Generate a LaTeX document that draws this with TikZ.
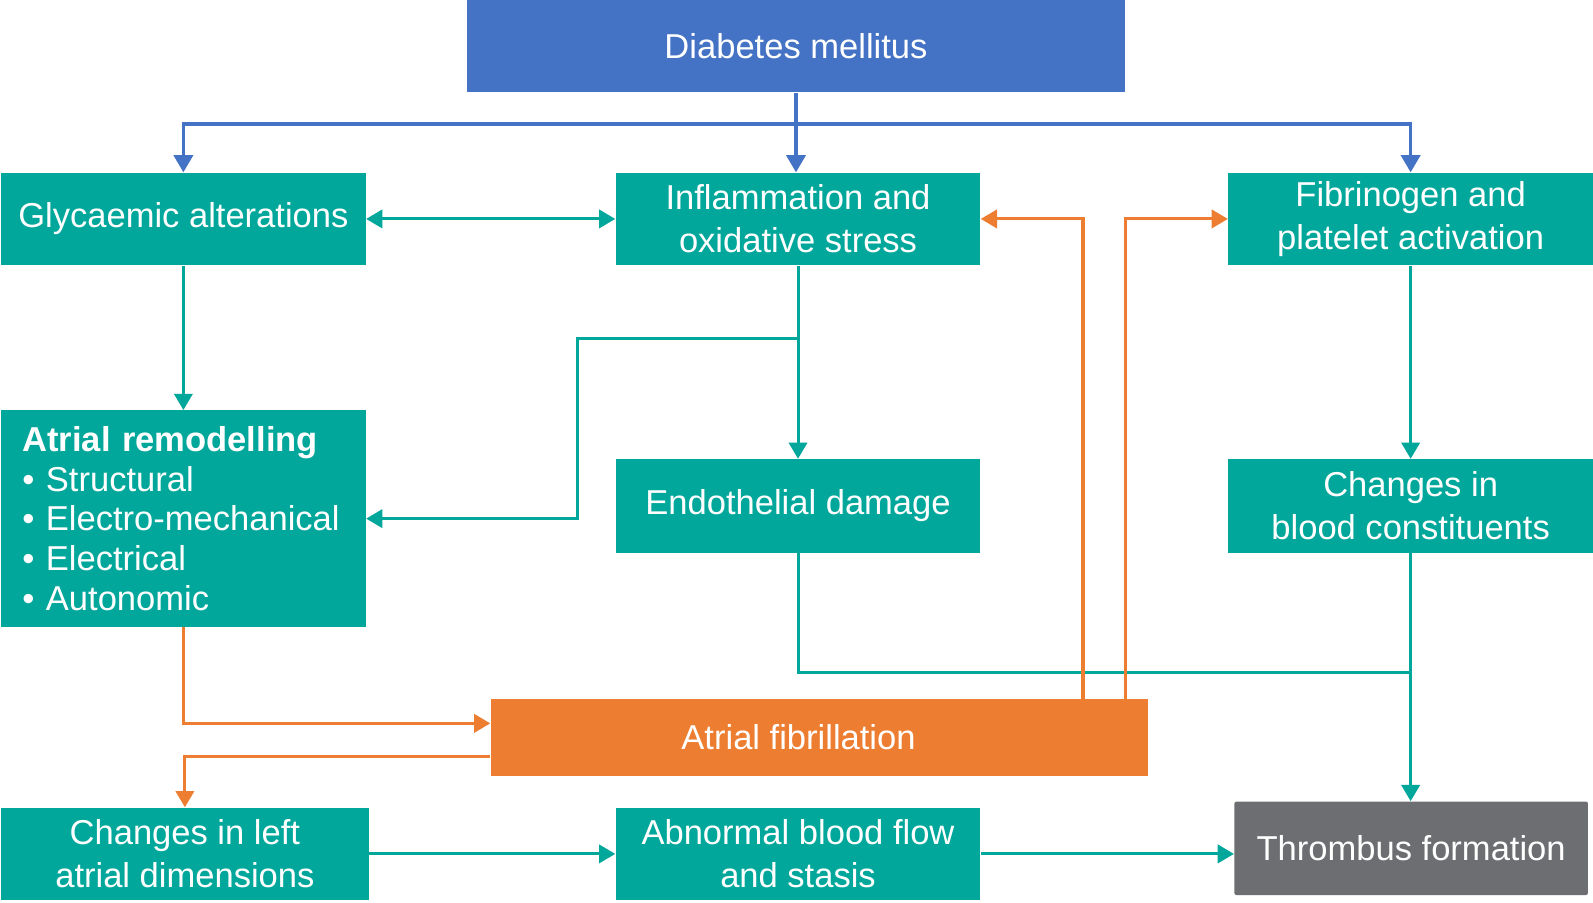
\documentclass[tikz,border=0pt]{standalone}
\usepackage{fontspec}
\setmainfont{Liberation Sans}
\usetikzlibrary{arrows.meta}
\definecolor{dmblue}{HTML}{4472C4}
\definecolor{tealc}{HTML}{00A79A}
\definecolor{afor}{HTML}{ED7D31}
\definecolor{thgrey}{HTML}{6D6E71}
\begin{document}
\begin{tikzpicture}[x=0.5pt,y=-0.5pt,
  box/.style={fill=tealc,text=white,draw=none,minimum width=179.5pt,minimum height=45.5pt,
    align=center,inner sep=0pt,font=\fontsize{17}{21}\selectfont},
  tl/.style={draw=tealc,line width=1.5pt},
  ta/.style={tl,-{Triangle[width=9pt,length=8pt]}},
  tda/.style={tl,{Triangle[width=9pt,length=8pt]}-{Triangle[width=9pt,length=8pt]}},
  bl/.style={draw=dmblue,line width=1.6pt},
  ba/.style={bl,-{Triangle[width=9.5pt,length=8.5pt]}},
  oa/.style={draw=afor,line width=1.5pt,-{Triangle[width=9pt,length=8pt]}},
]
\fill[white] (0,0) rectangle (1568,888);
\useasboundingbox (0,0) rectangle (1568,888);

\node[box,fill=dmblue,minimum width=323.5pt] (dm) at (783.5,45.5) {Diabetes mellitus};
\node[box] (gly) at (180.5,215.5) {Glycaemic alterations};
\node[box] (infl) at (785.5,215.5) {Inflammation and\\oxidative stress};
\node[box] (fib) at (1388.5,215.5) {Fibrinogen and\\platelet activation};
\node[box,minimum height=106.5pt,text width=158.5pt,align=left,
  font=\fontsize{17}{19.5}\selectfont] (ar) at (180.5,510.5)
  {\textbf{Atrial remodelling}\\• Structural\\• Electro-mechanical\\• Electrical\\• Autonomic};
\node[box,minimum height=46pt] (endo) at (785.5,498) {Endothelial damage};
\node[box,minimum height=46pt] (cbc) at (1388.5,498) {Changes in\\blood constituents};
\node[box,fill=afor,minimum width=323.5pt,minimum height=38pt] (af) at (806.5,726)
  {\hspace*{-20.5pt}Atrial fibrillation};
\node[box,minimum width=181pt] (cla) at (182,840.5) {Changes in left\\atrial dimensions};
\node[box] (abn) at (785.5,840.5) {Abnormal blood flow\\and stasis};
\node[box,fill=thgrey,minimum width=174pt,minimum height=46pt,rounded corners=1pt] (thr) at (1389,835) {Thrombus formation};

% blue
\coordinate (bj) at (783.5,122);
\draw[bl] (dm.south) -- (bj);
\draw[ba] (bj) -| (gly.north);
\draw[ba] (bj) -| (fib.north);
\draw[ba] (bj) -- (bj |- infl.north);

% teal
\draw[tda] (gly.east) -- (infl.west);
\draw[ta] (gly.south) -- (ar.north);
\draw[ta] (infl.south) -- (endo.north);
\coordinate (br) at (785.5,333);
\draw[ta] (br) -- (568,333) |- (ar.east);
\draw[ta] (fib.south) -- (cbc.north);
\coordinate (jn) at (1388.5,662);
\draw[tl] (endo.south) |- (jn);
\draw[ta] (cbc.south) -- (cbc.south |- thr.north);
\draw[ta] (cla.east) -- (abn.west);
\draw[ta] (abn.east) -- (abn.east -| thr.west);

% orange
\draw[oa] ([xshift=129.75pt]af.north) |- (infl.east);
\draw[oa] ([xshift=150.75pt]af.north) |- (fib.west);
\draw[oa] (ar.south) |- ([yshift=7pt]af.west);
\draw[oa] ([yshift=-9.5pt]af.west) -| (cla.north);
\end{tikzpicture}
\end{document}
